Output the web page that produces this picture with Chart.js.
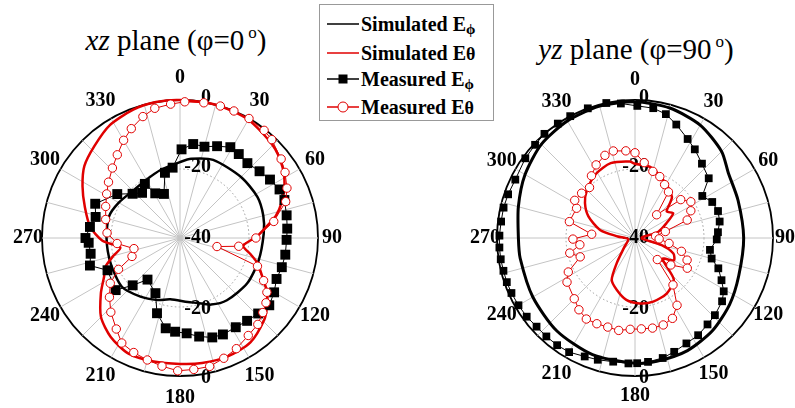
<!DOCTYPE html>
<html>
<head>
<meta charset="utf-8">
<script src="https://cdn.jsdelivr.net/npm/chart.js@4/dist/chart.umd.min.js"></script>
<style>
  body { margin: 0; background: #fff; width: 795px; height: 408px; overflow: hidden; position: relative; font-family: "Liberation Serif", "Times New Roman", serif; }
  .box { position: absolute; top: 0; height: 408px; }
  .title { position: absolute; width: 320px; text-align: center; font-size: 29px; line-height: 32px; color: #000; }
  .title sup { font-size: 17px; vertical-align: 12px; line-height: 0; margin-left: 4px; }
  #legend { position: absolute; left: 319px; top: 4px; width: 173px; height: 115px; border: 1px solid #999; background: #fff; }
  .row { position: absolute; left: 0; height: 26px; font-weight: bold; font-size: 20px; line-height: 26px; white-space: nowrap; }
  .row svg { position: absolute; left: 7px; top: 3px; }
  .row span.t { position: absolute; left: 41px; top: 0; }
  .sub { font-size: 15px; position: relative; top: 3px; }
</style>
</head>
<body>
<div class="title" style="left:16px; top:24px;"><i>xz</i> plane (φ=0<sup>o</sup>)</div>
<div class="title" style="left:476px; top:33px;"><i>yz</i> plane (φ=90<sup>o</sup>)</div>

<div id="legend">
  <div class="row" style="top:6px;"><svg width="32" height="20"><line x1="0" y1="10" x2="32" y2="10" stroke="#000" stroke-width="1.5"/></svg><span class="t">Simulated E<span class="sub">ϕ</span></span></div>
  <div class="row" style="top:35px;"><svg width="32" height="20"><line x1="0" y1="10" x2="32" y2="10" stroke="#e00000" stroke-width="1.5"/></svg><span class="t">Simulated E<span style="font-size:18px">θ</span></span></div>
  <div class="row" style="top:61px;"><svg width="32" height="20"><line x1="0" y1="10" x2="32" y2="10" stroke="#000" stroke-width="1.5"/><rect x="11.5" y="5.5" width="9" height="9" fill="#000"/></svg><span class="t">Measured E<span class="sub">ϕ</span></span></div>
  <div class="row" style="top:89px;"><svg width="32" height="20"><line x1="0" y1="10" x2="32" y2="10" stroke="#e00000" stroke-width="1.5"/><circle cx="16" cy="10" r="5" fill="#fff" stroke="#e00000" stroke-width="1"/></svg><span class="t">Measured E<span style="font-size:18px">θ</span></span></div>
</div>

<div class="box" style="left:0; width:360px;"><canvas id="xz"></canvas></div>
<div class="box" style="left:440px; width:355px;"><canvas id="yz"></canvas></div>

<script>
// polar axes
const angleTicks = [0, 30, 60, 90, 120, 150, 180, 210, 240, 270, 300, 330];
const radialTicks = [-40, -20, 0];

// xz plane (phi = 0)
const xzSimPhiDeg = [0, 8, 23, 45, 62, 75, 87, 106, 124, 143, 155, 165, 173, 189, 200, 214, 230, 250, 270, 287, 300, 316, 330, 344];
const xzSimPhiDb  = [-18, -16.8, -15.4, -15, -14.6, -15, -15.7, -16.3, -16.5, -17.4, -18.7, -20.5, -21.3, -22, -20.9, -19.5, -18, -18.6, -18.7, -18.5, -19.5, -20.7, -20.5, -19.5];

const xzSimThetaDeg = [0, 15, 30, 45, 55, 63, 70, 77, 83, 89, 97, 103, 108, 115, 122, 128, 134, 146, 158, 170, 180, 192, 204, 215, 225, 235, 243, 249, 255, 261, 268, 277, 288, 298, 307, 317, 328, 340, 350];
const xzSimThetaDb  = [0, 0, -0.4, -2, -3.8, -6, -8.5, -11.5, -15, -17.8, -21.5, -19, -16.4, -13.7, -10.2, -8, -6, -3.5, -3, -3.2, -3.5, -3.4, -3.3, -5, -7.6, -12, -15.3, -16.9, -20, -22.5, -17.5, -13.8, -11, -8, -5.3, -3.6, -1.5, -0.4, 0];

const xzMeasPhiDeg = [1, 8, 15, 22, 29, 35, 42, 50, 57, 64, 70, 78, 85, 91, 99, 106, 113, 120, 127, 134, 141, 148, 156, 162, 169, 176, 183, 189, 197, 204, 218, 225, 231, 246, 253, 260, 267, 270, 277, 284, 292, 305, 313, 320, 327, 331, 340, 347, 354];
const xzMeasPhiDb  = [-14.3, -12.5, -12.6, -11.3, -9.9, -10.3, -10.8, -9.9, -8.9, -7.9, -7.8, -8.4, -8.8, -9.1, -9.1, -9.3, -9.6, -8.5, -7.6, -8.5, -9.1, -9.5, -9.4, -9.7, -10.9, -12.3, -12.8, -13.5, -17.2, -22.5, -24.7, -20.6, -16, -17, -12.7, -13.7, -13.5, -12.6, -13.7, -14.8, -13.5, -17.8, -21.2, -22.9, -21.3, -25.2, -26.4, -20.6, -19.5];

const xzMeasThetaDeg = [2, 10, 17, 23, 30, 38, 43, 52, 58, 65, 71, 80, 90, 98, 103, 110, 117, 122, 127, 132, 138, 145, 153, 160, 167, 174, 181, 188, 195, 202, 209, 215, 223, 230, 237, 243, 249, 257, 265, 274, 284, 293, 301, 308, 316, 323, 330, 336, 343, 349, 356];
const xzMeasThetaDb  = [-0.5, -0.2, 0, 0, 0, -0.4, -1, -2.8, -4.1, -5.8, -7.6, -12.4, -18, -22.8, -29, -16.1, -12.8, -10.3, -8.8, -7.7, -6.3, -5.5, -4, -2.9, -1.8, -1.7, -1.5, -2.5, -3.4, -4.2, -5.2, -7.8, -10.6, -13.3, -15.9, -20, -25.1, -26.3, -21.7, -18.8, -17.8, -16.6, -15.2, -13.7, -11.8, -9.8, -7.3, -5.3, -3.2, -1.7, -1.1];

// yz plane (phi = 90)
const yzSimPhiDeg = [0, 15, 30, 45, 55, 70, 90, 110, 125, 140, 155, 170, 180, 200, 220, 240, 260, 270, 285, 300, 315, 330, 345];
const yzSimPhiDb  = [-0.5, -1, -2.2, -4.5, -7, -8.2, -8.5, -8, -6.5, -5, -4, -3.7, -3.7, -4, -4.8, -5.8, -6.2, -6.2, -5, -3.2, -1.6, -0.8, -0.4];

const yzSimThetaDeg = [0, 12, 26, 42, 50, 57, 65, 75, 85, 95, 105, 112, 120, 127, 137, 150, 164, 176, 188, 199, 209, 216, 230, 260, 275, 283, 295, 305, 315, 329, 342, 356];
const yzSimThetaDb  = [-18.5, -18.9, -21.3, -24, -28, -26.8, -30, -33, -38, -38, -32, -28, -27, -30, -23.5, -21.5, -20.8, -21, -21.9, -24, -26.1, -31, -36, -38, -35, -29.6, -25.1, -22.3, -20.3, -18.2, -17.2, -17.8];

const yzMeasPhiDeg = [1, 8, 14, 20, 28, 34, 42, 51, 58, 65, 72, 79, 86, 91, 99, 105, 110, 116, 121, 126, 134, 140, 147, 154, 161, 167, 174, 179, 183, 190, 197, 203, 210, 216, 222, 228, 234, 240, 246, 251, 256, 261, 266, 271, 277, 283, 289, 296, 306, 313, 319, 326, 332, 340, 348, 354];
const yzMeasPhiDb  = [-1.7, -2, -3, -5, -7.5, -9, -11, -12.5, -17, -15.3, -14.7, -15, -15.9, -16.3, -18, -17, -14.3, -12.1, -10, -8.8, -7.8, -7.3, -6.4, -6, -5.1, -4.3, -3.9, -3.7, -3.6, -3.6, -3.1, -2.7, -1.8, -1.6, -1.6, -1.6, -1.2, -1, -0.8, -0.7, -0.7, -0.6, -0.6, -0.7, -0.9, -0.9, -1.1, -1.4, -0.7, -0.4, 0, 0, 0, 0, 0, -0.8];

const yzMeasThetaDeg = [0, 7, 15, 22, 29, 36, 43, 50, 57, 64, 71, 78, 85, 92, 99, 106, 113, 120, 127, 134, 141, 148, 155, 162, 169, 176, 183, 190, 197, 204, 211, 218, 225, 237, 243, 251, 257, 263, 269, 275, 284, 297, 302, 310, 318, 325, 332, 340, 346, 354];
const yzMeasThetaDb  = [-15.3, -18, -20, -20.8, -22.3, -23.5, -30.8, -22.7, -20.7, -22, -24, -31, -34, -33, -30, -26, -23.6, -22.5, -27, -31, -22.5, -17, -14.3, -13.5, -13.4, -13.6, -13.5, -12.8, -13, -12.8, -12.6, -13.6, -15.1, -16.5, -18.3, -23.2, -20.6, -23.9, -22, -27.4, -20.4, -21, -19.4, -19.8, -20.3, -18, -16, -14.5, -14, -14.6];

const RED = '#e00000';
const angleLabels = [];
for (let a = 0; a < 360; a++) angleLabels.push(a);

// put (angle, value) pairs onto the 1-degree radar categories
function toRadar(deg, db) {
  const out = angleLabels.map(() => null);
  deg.forEach((d, i) => { out[d % 360] = db[i]; });
  return out;
}

const axisText = {
  id: 'axisText',
  beforeDatasetsDraw(chart, args, o) {
    const s = chart.scales.r;
    const c = chart.ctx;
    c.save();
    c.font = 'bold 20px "Liberation Serif", serif';
    c.fillStyle = '#000';
    c.textBaseline = 'middle';
    c.textAlign = 'right';
    radialTicks.forEach(v => {
      const d = s.getDistanceFromCenterForValue(v);
      if (d === 0) {
        c.fillText(String(v), s.xCenter + o.dx, s.yCenter);
      } else {
        c.fillText(String(v), s.xCenter + o.dx, s.yCenter - d - 2);
        c.fillText(String(v), s.xCenter + o.dx, s.yCenter + d + 2);
      }
    });
    c.textAlign = 'center';
    angleTicks.forEach(a => {
      const r = o.base + 8 * Math.abs(Math.cos(a * Math.PI / 180));
      const p = s.getPointPosition(a, r);
      c.fillText(String(a), p.x, p.y);
    });
    c.restore();
  }
};

function simLine(data, color, width) {
  return {
    data: data, borderColor: color, borderWidth: width, pointRadius: 0,
    fill: false, spanGaps: true, tension: 0.25, clip: false
  };
}

function measLine(data, color, style, radius) {
  return {
    data: data, borderColor: color, borderWidth: 1, fill: false, spanGaps: true, clip: false,
    pointStyle: style, pointRadius: radius,
    pointBackgroundColor: style === 'rect' ? '#000' : '#fff',
    pointBorderColor: color, pointBorderWidth: style === 'rect' ? 0 : 1
  };
}

function makePolar(id, datasets, pad, labelOpts) {
  return new Chart(document.getElementById(id), {
    type: 'radar',
    data: { labels: angleLabels, datasets: datasets },
    options: {
      responsive: true,
      maintainAspectRatio: false,
      animation: false,
      events: [],
      layout: { padding: pad },
      elements: { line: { capBezierPoints: false } },
      plugins: { legend: { display: false }, tooltip: { enabled: false }, axisText: labelOpts },
      scales: {
        r: {
          min: -40, max: 0,
          ticks: { display: false, stepSize: 20 },
          pointLabels: { display: false },
          grid: {
            circular: true,
            color: ctx => ctx.tick.value === 0 ? '#000' : (ctx.tick.value === -20 ? '#9a9a9a' : 'rgba(0,0,0,0)'),
            lineWidth: ctx => ctx.tick.value === 0 ? 1.8 : 1
          },
          border: { dash: ctx => (ctx.tick && ctx.tick.value === -20) ? [1.5, 2.5] : [] },
          angleLines: {
            color: ctx => ctx.index % 15 === 0 ? '#c4c4c4' : 'rgba(0,0,0,0)',
            lineWidth: ctx => ctx.index % 15 === 0 ? 1 : 0
          }
        }
      }
    },
    plugins: [axisText]
  });
}

makePolar('xz', [
  measLine(toRadar(xzMeasThetaDeg, xzMeasThetaDb), RED, 'circle', 4.2),
  measLine(toRadar(xzMeasPhiDeg, xzMeasPhiDb), '#000', 'rect', 7),
  simLine(toRadar(xzSimThetaDeg, xzSimThetaDb), RED, 2.5),
  simLine(toRadar(xzSimPhiDeg, xzSimPhiDb), '#000', 2.5)
], { left: 42, right: 42, top: 100, bottom: 32 }, { dx: 31, base: 152 });

makePolar('yz', [
  measLine(toRadar(yzMeasThetaDeg, yzMeasThetaDb), RED, 'circle', 4.2),
  measLine(toRadar(yzMeasPhiDeg, yzMeasPhiDb), '#000', 'rect', 5.5),
  simLine(toRadar(yzSimThetaDeg, yzSimThetaDb), RED, 2.5),
  simLine(toRadar(yzSimPhiDeg, yzSimPhiDb), '#000', 3)
], { left: 57, right: 22, top: 100, bottom: 32 }, { dx: 14, base: 150 });
</script>
</body>
</html>
